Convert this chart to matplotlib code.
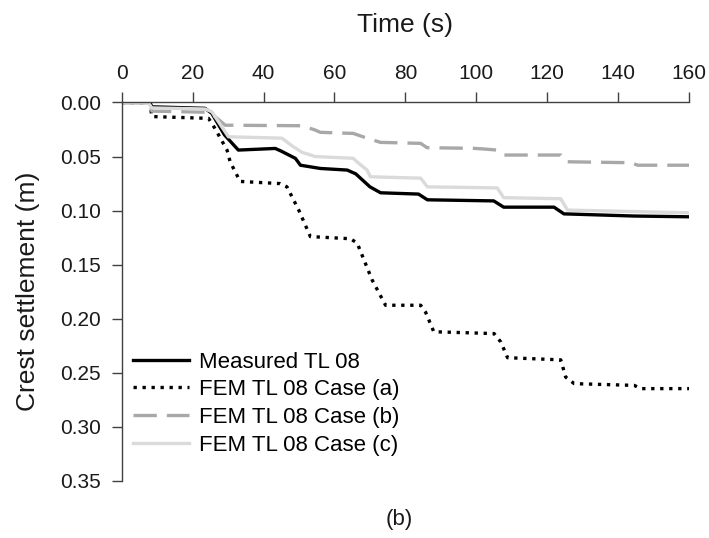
import matplotlib
matplotlib.use("Agg")
import matplotlib.pyplot as plt

plt.rcParams['font.family'] = ['Liberation Sans', 'DejaVu Sans']

# measured TL 08 (black solid)
t_meas = [0, 8, 8.5, 23.5, 25.4, 29, 32.9, 43.3, 45, 49, 50.4, 56, 63.6, 66, 70, 73,
          83.7, 86.2, 104.9, 107.7, 121.9, 124.7, 144.5, 160]
s_meas = [0, 0, 0.004, 0.0054, 0.010, 0.030, 0.044, 0.0425, 0.045, 0.0517, 0.058, 0.061,
          0.0625, 0.066, 0.078, 0.0835, 0.0847, 0.090, 0.091, 0.0968, 0.0968, 0.103, 0.105, 0.1057]

# FEM case (a) (black dotted)
t_a = [0, 8, 8.5, 24.5, 26.3, 29.7, 30.6, 33.4, 44.7, 46.6, 50, 53.2, 64.5, 66.4, 70.6,
       74.4, 84.3, 85.7, 88, 105, 106.9, 108.8, 123.8, 125.2, 127.6, 144.5, 146.4, 160]
s_a = [0, 0, 0.013, 0.0147, 0.024, 0.044, 0.055, 0.073, 0.075, 0.078, 0.100, 0.124, 0.126,
       0.130, 0.164, 0.1875, 0.1875, 0.194, 0.212, 0.2137, 0.2215, 0.236, 0.238, 0.254,
       0.260, 0.2616, 0.2646, 0.2646]

# FEM case (b) (grey dashed)
t_b = [0, 8, 8.5, 24.5, 26.3, 29.2, 50.8, 54.6, 56, 65.3, 69.2, 73, 84.3, 86.1, 99.3,
       102.1, 105.9, 107.8, 123.8, 125.2, 143.6, 145.5, 160]
s_b = [0, 0, 0.008, 0.009, 0.013, 0.021, 0.0215, 0.0255, 0.0276, 0.0286, 0.033, 0.0369,
       0.0378, 0.0418, 0.0424, 0.043, 0.044, 0.0486, 0.0486, 0.0548, 0.0557, 0.058, 0.058]

# FEM case (c) (light grey solid)
t_c = [0, 7.5, 8.5, 23.5, 25.4, 30.1, 45.2, 48, 50.8, 54.6, 65.3, 66.4, 69.2, 70.1, 84.3,
       86.2, 105.9, 107.7, 123.8, 125.7, 160]
s_c = [0, 0, 0.005, 0.006, 0.0085, 0.0317, 0.033, 0.040, 0.046, 0.050, 0.0516, 0.055,
       0.0625, 0.0687, 0.070, 0.078, 0.079, 0.088, 0.089, 0.0995, 0.102]

labels = ['Measured TL 08', 'FEM TL 08 Case (a)', 'FEM TL 08 Case (b)', 'FEM TL 08 Case (c)']
yticks = [0, 0.05, 0.10, 0.15, 0.20, 0.25, 0.30, 0.35]

fig = plt.figure(figsize=(7.09, 5.38), dpi=100)
ax = fig.add_axes([0.1716, 0.106, 0.8004, 0.7035])

ax.plot(t_meas, s_meas, color='black', lw=2.4, label=labels[0])
ax.plot(t_a, s_a, color='black', lw=2.4, linestyle=(0, (1, 1.7)), label=labels[1])
ax.plot(t_b, s_b, color='#a8a8a8', lw=2.4, linestyle=(0, (7, 3)), label=labels[2])
ax.plot(t_c, s_c, color='#dadada', lw=2.4, label=labels[3])

ax.set_xlim(0, 160)
ax.set_ylim(0.35, 0)
ax.set_xticks(range(0, 161, 20))
ax.set_yticks(yticks)
ax.set_yticklabels(['%.2f' % v for v in yticks])

ax.xaxis.tick_top()
ax.xaxis.set_label_position('top')
for sp in ['right', 'bottom']:
    ax.spines[sp].set_visible(False)
for sp in ['top', 'left']:
    ax.spines[sp].set_color('#404040')
    ax.spines[sp].set_linewidth(1.0)
ax.tick_params(axis='both', direction='out', length=7, width=1.0, color='#404040',
               labelsize=15, labelcolor='#1a1a1a')
ax.tick_params(axis='y', pad=8)
ax.tick_params(axis='x', pad=7)

ax.set_xlabel('Time (s)', fontsize=19, labelpad=23, color='#1a1a1a')
ax.set_ylabel('Crest settlement (m)', fontsize=19, labelpad=14, color='#1a1a1a')

ax.legend(loc='upper left', bbox_to_anchor=(0.02, 0.342), frameon=False, fontsize=16,
          handlelength=2.5, handletextpad=0.45, labelspacing=0.30, borderpad=0,
          borderaxespad=0)

fig.text(0.563, 0.035, '(b)', fontsize=16, ha='center', va='center', color='#1a1a1a')

fig.savefig('out.png', dpi=100)
